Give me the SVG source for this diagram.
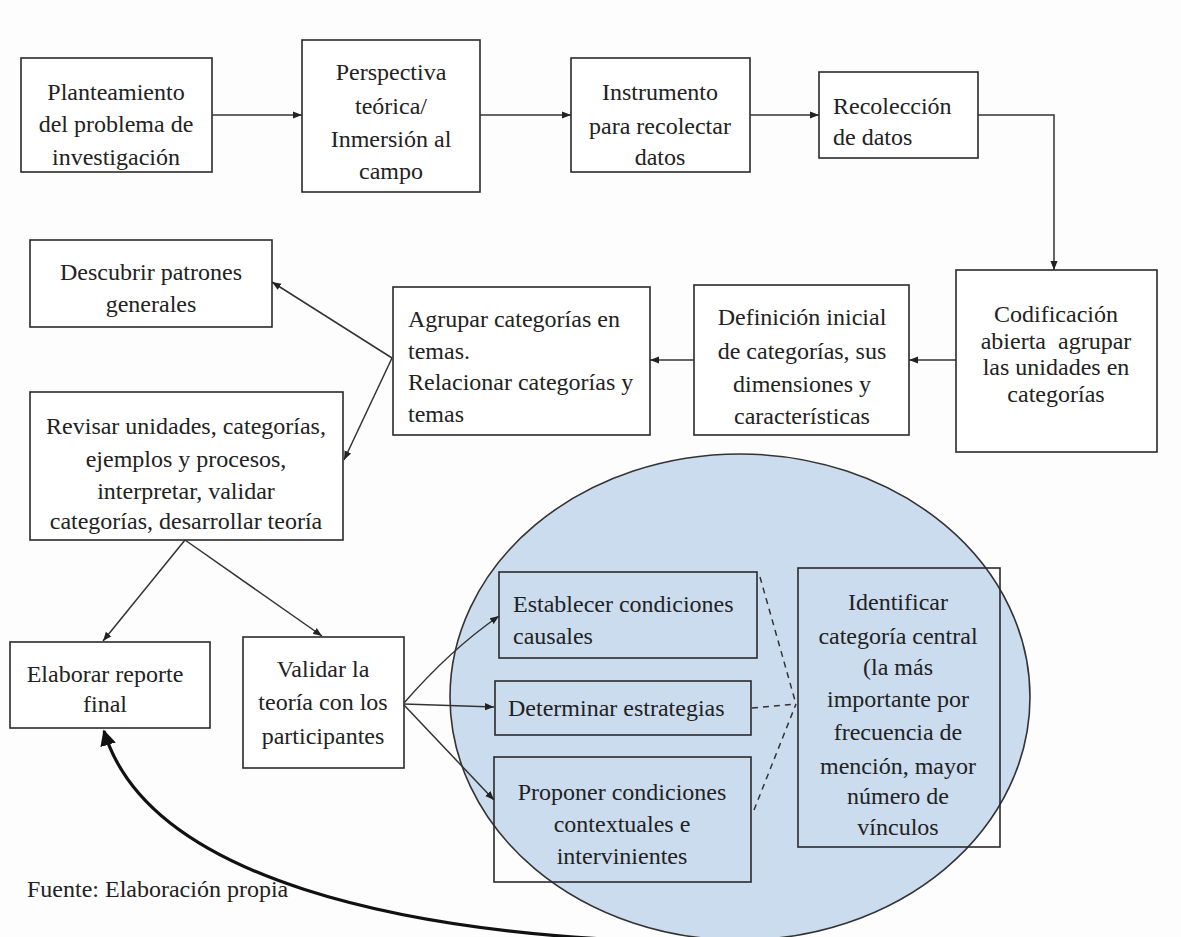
<svg xmlns="http://www.w3.org/2000/svg" width="1181" height="937" viewBox="0 0 1181 937">
<style>
.bx{fill:#ffffff;stroke:#2a2a2a;stroke-width:1.6}
.bi{fill:none;stroke:#2a2a2a;stroke-width:1.6}
.t{font-family:"Liberation Serif","Times New Roman",serif;font-size:24px;fill:#222}
.c{text-anchor:middle}
.ln{fill:none;stroke:#333;stroke-width:1.5}
.ds{fill:none;stroke:#333;stroke-width:1.5;stroke-dasharray:6 5}
</style>
<defs>
<marker id="ah" viewBox="0 0 10 10" refX="10" refY="5" markerWidth="9" markerHeight="9" markerUnits="userSpaceOnUse" orient="auto">
<path d="M0,1 L10,5 L0,9 z" fill="#222"/>
</marker>
<marker id="big" viewBox="0 0 10 10" refX="9" refY="5" markerWidth="16" markerHeight="16" markerUnits="userSpaceOnUse" orient="auto">
<path d="M0,0 L10,5 L0,10 z" fill="#111"/>
</marker>
</defs>
<rect width="1181" height="937" fill="#fdfdfd"/>
<g id="ellipse-region">
<ellipse cx="740" cy="697" rx="290" ry="243" fill="#cbdcef" stroke="#333" stroke-width="1.6"/>
</g>
<g id="n1"><rect class="bx" x="21" y="58" width="191" height="114"/>
<text class="t c" x="116" y="100">Planteamiento</text><text class="t c" x="116" y="132">del problema de</text><text class="t c" x="116" y="165">investigación</text></g>
<g id="n2"><rect class="bx" x="302" y="40" width="178" height="152"/>
<text class="t c" x="391" y="80">Perspectiva</text><text class="t c" x="391" y="114">teórica/</text><text class="t c" x="391" y="147">Inmersión al</text><text class="t c" x="391" y="179">campo</text></g>
<g id="n3"><rect class="bx" x="571" y="58" width="179" height="114"/>
<text class="t c" x="660" y="100">Instrumento</text><text class="t c" x="660" y="134">para recolectar</text><text class="t c" x="660" y="165">datos</text></g>
<g id="n4"><rect class="bx" x="819" y="72" width="159" height="86"/>
<text class="t" x="833" y="114">Recolección</text><text class="t" x="833" y="145">de datos</text></g>
<g id="n5"><rect class="bx" x="956" y="270" width="201" height="182"/>
<text class="t c" x="1056" y="322">Codificación</text><text class="t c" x="1056" y="349" xml:space="preserve">abierta  agrupar</text><text class="t c" x="1056" y="375">las unidades en</text><text class="t c" x="1056" y="402">categorías</text></g>
<g id="n6"><rect class="bx" x="694" y="285" width="215" height="150"/>
<text class="t c" x="802" y="325">Definición inicial</text><text class="t c" x="802" y="359">de categorías, sus</text><text class="t c" x="802" y="392">dimensiones y</text><text class="t c" x="802" y="424">características</text></g>
<g id="n7"><rect class="bx" x="393" y="287" width="257" height="148"/>
<text class="t" x="408" y="327">Agrupar categorías en</text><text class="t" x="408" y="359">temas.</text><text class="t" x="408" y="390">Relacionar categorías y</text><text class="t" x="408" y="422">temas</text></g>
<g id="n8"><rect class="bx" x="30" y="240" width="242" height="87"/>
<text class="t c" x="151" y="280">Descubrir patrones</text><text class="t c" x="151" y="312">generales</text></g>
<g id="n9"><rect class="bx" x="30" y="392" width="313" height="148"/>
<text class="t c" x="186" y="434">Revisar unidades, categorías,</text><text class="t c" x="186" y="467">ejemplos y procesos,</text><text class="t c" x="186" y="499">interpretar, validar</text><text class="t c" x="186" y="529">categorías, desarrollar teoría</text></g>
<g id="n10"><rect class="bx" x="10" y="642" width="200" height="86"/>
<text class="t c" x="105" y="682">Elaborar reporte</text><text class="t c" x="105" y="712">final</text></g>
<g id="n11"><rect class="bx" x="243" y="637" width="161" height="131"/>
<text class="t c" x="323" y="677">Validar la</text><text class="t c" x="323" y="710">teoría con los</text><text class="t c" x="323" y="744">participantes</text></g>
<g id="n12"><rect class="bi" x="499" y="572" width="258" height="86"/>
<text class="t" x="513" y="612">Establecer condiciones</text><text class="t" x="513" y="644">causales</text></g>
<g id="n13"><rect class="bi" x="495" y="681" width="256" height="54"/>
<text class="t" x="508" y="716">Determinar estrategias</text></g>
<g id="n14"><rect class="bi" x="494" y="757" width="257" height="125"/>
<text class="t c" x="622" y="800">Proponer condiciones</text><text class="t c" x="622" y="832">contextuales e</text><text class="t c" x="622" y="864">intervinientes</text></g>
<g id="n15"><rect class="bi" x="798" y="568" width="202" height="279"/>
<text class="t c" x="898" y="610">Identificar</text><text class="t c" x="898" y="644">categoría central</text><text class="t c" x="898" y="675">(la más</text><text class="t c" x="898" y="707">importante por</text><text class="t c" x="898" y="740">frecuencia de</text><text class="t c" x="898" y="774">mención, mayor</text><text class="t c" x="898" y="804">número de</text><text class="t c" x="898" y="835">vínculos</text></g>
<g id="connectors">
<line class="ln" x1="212" y1="115" x2="302" y2="115" marker-end="url(#ah)"/>
<line class="ln" x1="480" y1="115" x2="571" y2="115" marker-end="url(#ah)"/>
<line class="ln" x1="750" y1="115" x2="819" y2="115" marker-end="url(#ah)"/>
<polyline class="ln" points="978,115 1054,115 1054,270" marker-end="url(#ah)"/>
<line class="ln" x1="956" y1="360" x2="909" y2="360" marker-end="url(#ah)"/>
<line class="ln" x1="694" y1="360" x2="650" y2="360" marker-end="url(#ah)"/>
<line class="ln" x1="392" y1="358" x2="272" y2="282" marker-end="url(#ah)"/>
<line class="ln" x1="392" y1="358" x2="344" y2="460" marker-end="url(#ah)"/>
<line class="ln" x1="185" y1="540" x2="103" y2="641" marker-end="url(#ah)"/>
<line class="ln" x1="185" y1="540" x2="322" y2="636" marker-end="url(#ah)"/>
<path class="ln" d="M404,703 Q450,650 499,616" marker-end="url(#ah)"/>
<line class="ln" x1="404" y1="704" x2="494" y2="707" marker-end="url(#ah)"/>
<line class="ln" x1="404" y1="705" x2="494" y2="800" marker-end="url(#ah)"/>
<line class="ds" x1="760" y1="577" x2="796" y2="704"/>
<line class="ds" x1="752" y1="708" x2="796" y2="704"/>
<line class="ds" x1="754" y1="810" x2="796" y2="704"/>
<path d="M622,940 C420,930 150,885 104,731" fill="none" stroke="#111" stroke-width="3.2" marker-end="url(#big)"/>
</g>
<text class="t" x="27" y="897">Fuente: Elaboración propia</text>
</svg>
